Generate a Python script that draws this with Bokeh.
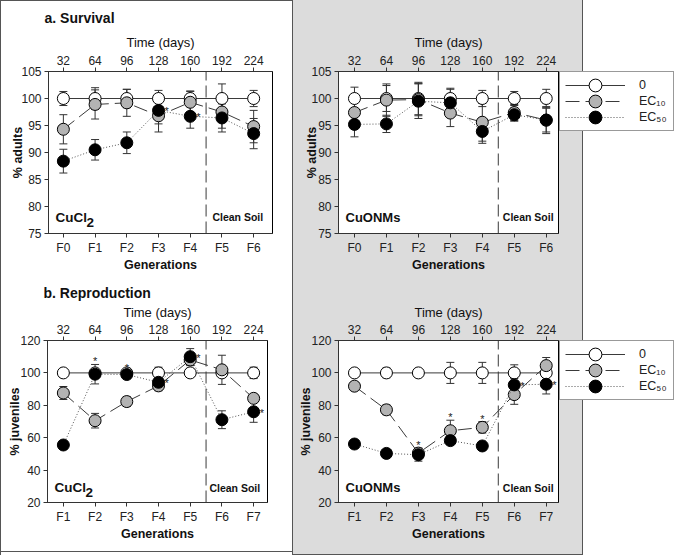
from bokeh.plotting import figure
from bokeh.models import (Range1d, LinearAxis, FixedTicker, Whisker, TeeHead,
                          ColumnDataSource, Legend, LegendItem)
from bokeh.layouts import column, row
from bokeh.embed import file_html
from bokeh.resources import INLINE
from bokeh.core.properties import value

# ---------------- data ----------------
days = [32, 64, 96, 128, 160, 192, 224]
gen_survival = ["F0", "F1", "F2", "F3", "F4", "F5", "F6"]
gen_repro = ["F1", "F2", "F3", "F4", "F5", "F6", "F7"]
clean_soil_day = 176
series_labels = ["0", "EC\u2081\u2080", "EC\u2085\u2080"]

# a. Survival - CuCl2
s_cucl2_ctrl = [100, 100, 100, 100, 100, 100, 100]
s_cucl2_ctrl_err = [1.3, 2.0, 1.7, 1.5, 1.4, 2.7, 1.5]
s_cucl2_ec10 = [94.3, 98.9, 99.2, 96.8, 99.3, 97.5, 94.8]
s_cucl2_ec10_err = [2.7, 2.7, 2.5, 3.0, 2.0, 3.0, 3.0]
s_cucl2_ec50 = [88.4, 90.5, 91.8, 97.8, 96.7, 96.4, 93.5]
s_cucl2_ec50_err = [2.2, 1.9, 2.0, 2.5, 2.2, 2.6, 2.8]
s_cucl2_stars = [("ec50", 3, "right"), ("ec50", 4, "right")]

# a. Survival - CuONMs
s_cuonm_ctrl = [100, 100, 100, 100, 100, 100, 100]
s_cuonm_ctrl_err = [2.1, 2.4, 3.0, 1.9, 1.5, 1.3, 1.7]
s_cuonm_ec10 = [97.4, 99.7, 99.8, 97.3, 95.6, 97.4, 96.0]
s_cuonm_ec10_err = [2.5, 3.0, 3.0, 2.5, 3.5, 1.5, 2.2]
s_cuonm_ec50 = [95.2, 95.3, 99.5, 99.2, 93.9, 97.0, 96.0]
s_cuonm_ec50_err = [2.3, 1.6, 3.2, 2.5, 2.2, 1.2, 2.5]
s_cuonm_stars = []

# b. Reproduction - CuCl2
r_cucl2_ctrl = [100, 100, 100, 100, 100, 100, 100]
r_cucl2_ctrl_err = [1.0, 2.0, 1.5, 3.5, 2.5, 2.0, 3.5]
r_cucl2_ec10 = [87.6, 70.5, 82.3, 92.0, 108.0, 101.9, 84.3]
r_cucl2_ec10_err = [4.0, 4.5, 3.0, 3.0, 3.5, 9.0, 2.0]
r_cucl2_ec50 = [55.5, 99.2, 99.0, 94.2, 110.0, 71.1, 76.0]
r_cucl2_ec50_err = [2.2, 6.0, 2.0, 3.5, 5.0, 5.5, 6.5]
r_cucl2_stars = [("ec50", 1, "top"), ("ec50", 2, "top"), ("ec50", 3, "right"),
                 ("ec50", 4, "right"), ("ec50", 6, "right")]

# b. Reproduction - CuONMs
r_cuonm_ctrl = [100, 100, 100, 100, 100, 100, 100]
r_cuonm_ctrl_err = [1.0, 3.0, 0.5, 6.5, 6.5, 5.0, 4.0]
r_cuonm_ec10 = [91.8, 77.2, 50.5, 64.3, 66.4, 86.6, 104.5]
r_cuonm_ec10_err = [2.5, 3.0, 3.0, 6.5, 3.5, 6.0, 5.0]
r_cuonm_ec50 = [56.1, 50.3, 49.5, 58.2, 54.9, 92.6, 93.0]
r_cuonm_ec50_err = [1.5, 2.0, 4.0, 2.5, 1.5, 4.0, 6.0]
r_cuonm_stars = [("ec10", 2, "top"), ("ec10", 3, "top"), ("ec10", 4, "top"),
                 ("ec50", 5, "right"), ("ec50", 6, "right")]

# ---------------- styling ----------------
FONT = "Liberation Sans"
AX = "#333333"
GREY_BG = "#dcdcdc"
EDGE = "#555555"
BOUND = "#3a3a3a"
KEYS = ["ctrl", "ec10", "ec50"]
STYLES = {
    "ctrl": dict(fill="white", dash="solid", color="#3a3a3a"),
    "ec10": dict(fill="#b3b3b3", dash="14 6", color="#3a3a3a"),
    "ec50": dict(fill="black", dash="1 2", color="#555555"),
}


def panel(width, height, borders, xr, yr, yticks, ylabel, gens, data, stars,
          tag, tag_y, soil_x, line_end, ylab_standoff, time_standoff,
          title=None, title_standoff=0, styles=None):
    bl, br, bt, bb = borders
    p = figure(width=width, height=height, x_range=Range1d(*xr), y_range=Range1d(*yr),
               output_backend="svg", toolbar_location=None,
               min_border_left=bl, min_border_right=br, min_border_top=bt,
               min_border_bottom=bb)
    p.border_fill_color = None
    p.background_fill_color = "white"
    p.outline_line_color = "black"
    p.outline_line_width = 1
    p.xgrid.visible = False
    p.ygrid.visible = False
    if styles:
        p.styles = styles

    bottom = p.below[0]
    left = p.left[0]
    top = LinearAxis(ticker=FixedTicker(ticks=days), axis_label="Time (days)")
    p.add_layout(top, "above")
    bottom.ticker = FixedTicker(ticks=days)
    bottom.major_label_overrides = {d: g for d, g in zip(days, gens)}
    bottom.axis_label = "Generations"
    left.ticker = FixedTicker(ticks=yticks)
    left.axis_label = ylabel
    for ax in (bottom, left, top):
        ax.axis_line_color = AX
        ax.major_tick_line_color = AX
        ax.minor_tick_line_color = None
        ax.major_tick_in = 0
        ax.major_tick_out = 4
        ax.major_label_text_font = FONT
        ax.major_label_text_font_size = "12px"
        ax.major_label_text_color = "#222222"
        ax.major_label_standoff = 3
        ax.axis_label_text_font = FONT
        ax.axis_label_text_font_size = "12.5px"
        ax.axis_label_text_color = "#111111"
        ax.axis_label_standoff = 0
    top.axis_label_text_font_size = "13px"
    top.axis_label_standoff = time_standoff
    bottom.axis_label_text_font_style = "bold"
    left.axis_label_text_font_style = "bold"
    left.axis_label_standoff = ylab_standoff
    top.axis_label_text_font_style = "normal"

    if title:
        p.title.text = title
        p.title.text_font = FONT
        p.title.text_font_size = "14px"
        p.title.text_font_style = "bold"
        p.title.text_color = "#111111"
        p.title.align = "left"
        p.title.offset = -4
        p.title.standoff = title_standoff

    # boundary between exposure and clean soil: inside the frame ...
    bsrc = ColumnDataSource(dict(x=[clean_soil_day], top=[yr[1]], bot=[yr[0]]))
    p.add_layout(Whisker(source=bsrc, base="x", upper="top", lower="bot",
                         upper_head=None, lower_head=None, line_color=BOUND,
                         line_width=1, line_dash="12 5", level="underlay"))
    # ... and continued below the frame, down through the axis area
    ext = LinearAxis(fixed_location=clean_soil_day, bounds=(line_end, yr[0]),
                     ticker=FixedTicker(ticks=[]), axis_line_color=BOUND,
                     axis_line_dash="12 5", major_tick_line_color=None,
                     minor_tick_line_color=None, major_tick_in=0, major_tick_out=0,
                     major_label_standoff=0, major_label_text_font_size="1px")
    p.add_layout(ext, "left")

    for key in KEYS:
        vals, errs = data[key]
        st = STYLES[key]
        src = ColumnDataSource(dict(x=days, y=vals,
                                    upper=[v + e for v, e in zip(vals, errs)],
                                    lower=[v - e for v, e in zip(vals, errs)]))
        p.add_layout(Whisker(source=src, base="x", upper="upper", lower="lower",
                             line_color=AX, line_width=1, level="underlay",
                             upper_head=TeeHead(size=8, line_color=AX, line_width=1),
                             lower_head=TeeHead(size=8, line_color=AX, line_width=1)))
        p.line("x", "y", source=src, line_color=st["color"], line_width=1,
               line_dash=st["dash"])
        p.scatter("x", "y", source=src, size=12, fill_color=st["fill"],
                  line_color="black", line_width=1)

    # significance asterisks
    rx, ry, tx, ty = [], [], [], []
    for key, i, side in stars:
        vals, errs = data[key]
        if side == "right":
            rx.append(days[i]); ry.append(vals[i])
        else:
            tx.append(days[i]); ty.append(vals[i] + errs[i])
    if rx:
        p.text(x=rx, y=ry, text=["*"] * len(rx), text_font=value(FONT),
               text_font_size="11px", text_align="left", text_baseline="middle",
               x_offset=6, y_offset=1, text_color="#222222")
    if tx:
        p.text(x=tx, y=ty, text=["*"] * len(tx), text_font=value(FONT),
               text_font_size="11px", text_align="center", text_baseline="bottom",
               y_offset=3, text_color="#222222")

    tx0 = xr[0] + 7
    if tag == "CuCl2":
        p.text(x=[tx0], y=[tag_y], text=["CuCl"], text_font=value(FONT),
               text_font_size="13.5px", text_font_style="bold", text_align="left",
               text_baseline="middle", text_color="#111111")
        p.text(x=[tx0], y=[tag_y], text=["2"], text_font=value(FONT),
               text_font_size="13.5px", text_font_style="bold", text_align="left",
               text_baseline="middle", text_color="#111111", x_offset=31, y_offset=5)
    else:
        p.text(x=[tx0], y=[tag_y], text=[tag], text_font=value(FONT),
               text_font_size="13px", text_font_style="bold", text_align="left",
               text_baseline="middle", text_color="#111111")
    p.text(x=[soil_x], y=[tag_y], text=["Clean Soil"], text_font=value(FONT),
           text_font_size="10.5px", text_font_style="bold", text_align="center",
           text_baseline="middle", text_color="#111111")
    return p


def legend_panel(width, height, top_border, styles):
    q = figure(width=width, height=height, x_range=Range1d(0, 1), y_range=Range1d(0, 1),
               output_backend="svg", toolbar_location=None, x_axis_type=None,
               y_axis_type=None, min_border_left=0, min_border_right=0,
               min_border_top=top_border, min_border_bottom=0)
    q.border_fill_color = None
    q.background_fill_color = None
    q.outline_line_color = None
    q.xgrid.visible = False
    q.ygrid.visible = False
    q.styles = styles
    items = []
    nan = float("nan")
    for key, lab in zip(KEYS, series_labels):
        st = STYLES[key]
        # legend-only renderers (no visible points)
        lr = q.line(x=[nan], y=[nan], line_color=st["color"], line_width=1,
                    line_dash=st["dash"])
        er = q.ellipse(x=[nan], y=[nan], width=12, height=12, width_units="screen",
                       height_units="screen", fill_color=st["fill"],
                       line_color="black", line_width=1)
        items.append(LegendItem(label=lab, renderers=[lr, er]))
    lg = Legend(items=items, location="top_left", margin=0, padding=5,
                spacing=0, glyph_width=60, glyph_height=16, label_standoff=14,
                label_width=29, label_height=16, label_text_font=FONT,
                label_text_font_size="12.5px", label_text_color="#222222",
                border_line_color="#333333", background_fill_color="white",
                background_fill_alpha=1)
    q.add_layout(lg)
    return q


TH, BH = 280, 275
LW = 293
RW, LGW = 266, 115
grey_right = (f"linear-gradient(to right, {GREY_BG} 0px, {GREY_BG} 23px, {EDGE} 23px, "
              f"{EDGE} 24px, #ffffff 24px)")
bottom_line = (f"linear-gradient(to bottom, rgba(0,0,0,0) 0px, rgba(0,0,0,0) {BH-1}px, "
               f"{EDGE} {BH-1}px, {EDGE} {BH}px)")

tl = panel(LW, TH, (48, 21, 71, 47), (17, 243), (75, 105), [75, 80, 85, 90, 95, 100, 105],
           "% adults", gen_survival,
           {"ctrl": (s_cucl2_ctrl, s_cucl2_ctrl_err), "ec10": (s_cucl2_ec10, s_cucl2_ec10_err),
            "ec50": (s_cucl2_ec50, s_cucl2_ec50_err)},
           s_cucl2_stars, "CuCl2", 78, 208, 67.8, -7, 3,
           title="a. Survival", title_standoff=11,
           styles={"background-color": "white",
                   "box-shadow": f"inset 1px 0 0 {EDGE}, inset 0 1px 0 {EDGE}, inset -1px 0 0 {EDGE}"})

tr = panel(RW, TH, (45, 1, 71, 47), (16, 236.3), (75, 105), [75, 80, 85, 90, 95, 100, 105],
           "% adults", gen_survival,
           {"ctrl": (s_cuonm_ctrl, s_cuonm_ctrl_err), "ec10": (s_cuonm_ec10, s_cuonm_ec10_err),
            "ec50": (s_cuonm_ec50, s_cuonm_ec50_err)},
           s_cuonm_stars, "CuONMs", 78, 206, 67.8, -11, 3,
           styles={"background-color": GREY_BG})
tr_leg = legend_panel(LGW, TH, 71, {"background": grey_right})

bl_ = panel(LW, BH, (47, 26, 60, 53), (16, 238), (20, 120), [20, 40, 60, 80, 100, 120],
            "% juveniles", gen_repro,
            {"ctrl": (r_cucl2_ctrl, r_cucl2_ctrl_err), "ec10": (r_cucl2_ec10, r_cucl2_ec10_err),
             "ec50": (r_cucl2_ec50, r_cucl2_ec50_err)},
            r_cucl2_stars, "CuCl2", 29, 205, -2.2, -5, 2,
            title="b. Reproduction", title_standoff=2,
            styles={"background-color": "white",
                    "box-shadow": f"inset 1px 0 0 {EDGE}, inset -1px 0 0 {EDGE}, inset 0 -3px 0 white, inset 0 -4px 0 {EDGE}"})

br_ = panel(RW, BH, (45, 1, 60, 53), (16, 236.3), (20, 120), [20, 40, 60, 80, 100, 120],
            "% juveniles", gen_repro,
            {"ctrl": (r_cuonm_ctrl, r_cuonm_ctrl_err), "ec10": (r_cuonm_ec10, r_cuonm_ec10_err),
             "ec50": (r_cuonm_ec50, r_cuonm_ec50_err)},
            r_cuonm_stars, "CuONMs", 29, 206, -2.2, -5, 2,
            styles={"background": f"{bottom_line}, {GREY_BG}"})
br_leg = legend_panel(LGW, BH, 60,
                      {"background": f"{bottom_line} 0 0 / 24px 100% no-repeat, {grey_right}"})

layout = column(row(tl, tr, tr_leg), row(bl_, br_, br_leg))
open("out.html", "w").write(file_html(layout, INLINE))
